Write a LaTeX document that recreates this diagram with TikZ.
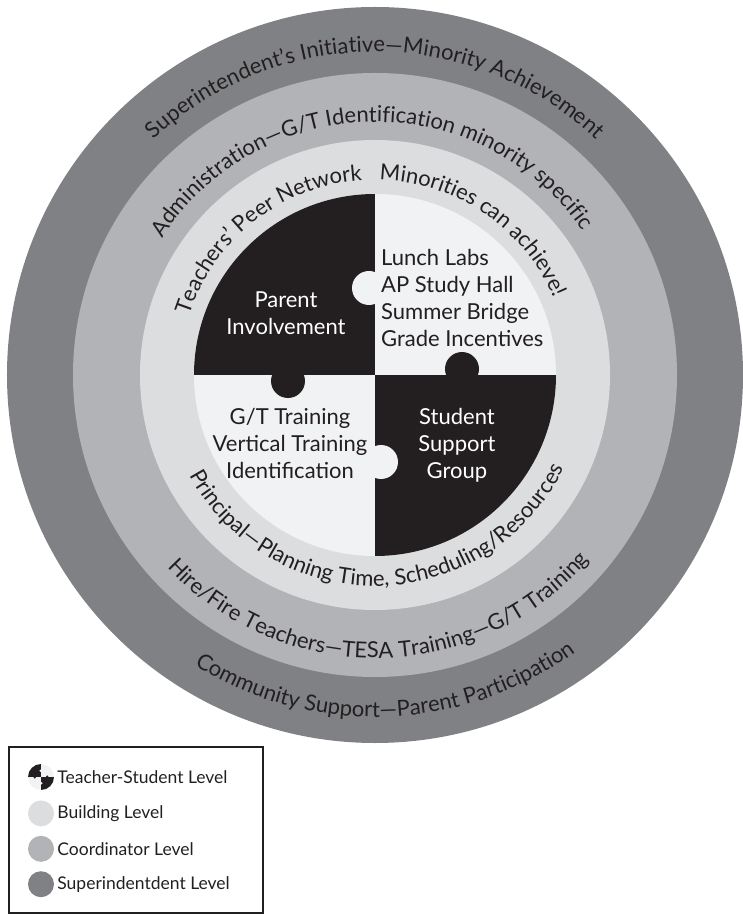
\documentclass[tikz,border=0pt]{standalone}
\usepackage{fontspec}
\setmainfont{Lato}
\usepackage{tikz}
\usetikzlibrary{positioning,decorations.text}
\definecolor{supgrey}{HTML}{808184}
\definecolor{coordgrey}{HTML}{B2B3B6}
\definecolor{buildgrey}{HTML}{DCDDDF}
\definecolor{paper}{HTML}{F1F2F3}
\definecolor{ink}{HTML}{231F20}
\newcommand{\ringfont}{\fontsize{22}{26}\selectfont}
\newcommand{\puzzlepieces}{%
  \fill[paper] (0,0) circle[radius=181];
  \begin{scope}
    \clip (0,0) circle[radius=181];
    \fill[ink] (0,0) rectangle (-181,181);
    \fill[ink] (0,0) rectangle (181,-181);
  \end{scope}
  \fill[ink] (-87,-6) circle[radius=17];
  \fill[ink] (87,6) circle[radius=17];
  \fill[paper] (-6,87) circle[radius=17];
  \fill[paper] (6,-87) circle[radius=17];
}
\tikzset{
  ring/text/.style={decorate, decoration={text along path, text align=center,
    text color=ink, text={|\ringfont|#1}}},
  piece/dark/.style={text=white, align=center, inner sep=0pt, font=\fontsize{22}{27}\selectfont},
  piece/light/.style={piece/dark, text=ink},
  legend/box/.style={draw=ink, line width=1.2pt},
  legend/swatch/.style={circle, minimum size=26pt, inner sep=0pt},
  legend/text/.style={text=ink, inner sep=0pt, font=\fontsize{17.5}{20}\selectfont}
}
\begin{document}
\begin{tikzpicture}[x=1pt, y=1pt]
\useasboundingbox (-375,375) rectangle (367,-540);
% levels, outermost first
\fill[supgrey] (0,0) circle[radius=368];
\fill[coordgrey] (0,0) circle[radius=302];
\fill[buildgrey] (0,0) circle[radius=235];
\puzzlepieces
% texts on the upper arcs
\path[ring/text={Superintendent’s Initiative—Minority Achievement}]
  (180:323) arc[start angle=180, end angle=0, radius=323];
\path[ring/text={Administration—G/T Identification minority specific}]
  (181:253) arc[start angle=181, end angle=1, radius=253];
\path[ring/text={Teachers’ Peer Network}]
  (180:195) arc[start angle=180, end angle=76, radius=195];
\path[ring/text={Minorities can achieve!}]
  (112:195) arc[start angle=112, end angle=0, radius=195];
% texts on the lower arcs
\path[ring/text={Principal—Planning Time, Scheduling/Resources}]
  (181:211) arc[start angle=181, end angle=361, radius=211];
\path[ring/text={Hire/Fire Teachers—TESA Training—G/T Training}]
  (181:283) arc[start angle=181, end angle=361, radius=283];
\path[ring/text={Community Support—Parent Participation}]
  (182:342) arc[start angle=182, end angle=362, radius=342];
% the four pieces
\node[piece/dark] (parent) at (-89,62) {Parent\\Involvement};
\node[piece/light, anchor=west, align=left] (labs) at (6,77) {Lunch Labs\\AP Study Hall\\Summer Bridge\\Grade Incentives};
\node[piece/light] (training) at (-85,-68) {G/T Training\\Vertical Training\\Identification};
\node[piece/dark] (support) at (82,-70) {Student\\Support\\Group};
% legend
\draw[legend/box] (-366,-372) rectangle (-112,-538);
\node[legend/swatch] (swteach) at (-334,-402) {};
\begin{scope}[shift={(swteach.center)}, scale=0.0718]
  \puzzlepieces
\end{scope}
\node[legend/swatch, fill=buildgrey, below=10pt of swteach] (swbuild) {};
\node[legend/swatch, fill=coordgrey, below=9pt of swbuild] (swcoord) {};
\node[legend/swatch, fill=supgrey, below=9pt of swcoord] (swsup) {};
\node[legend/text, right=3pt of swteach] (lbteach) {Teacher-Student Level};
\node[legend/text, right=3pt of swbuild] (lbbuild) {Building Level};
\node[legend/text, right=3pt of swcoord] (lbcoord) {Coordinator Level};
\node[legend/text, right=3pt of swsup] (lbsup) {Superindentdent Level};
\end{tikzpicture}
\end{document}
